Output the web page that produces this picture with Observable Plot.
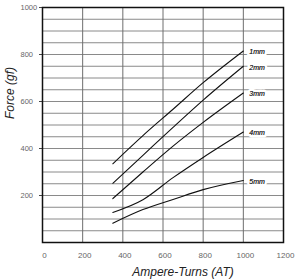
<!DOCTYPE html>
<html>
<head>
<meta charset="utf-8">
<script src="https://cdn.jsdelivr.net/npm/d3@7"></script>
<script src="https://cdn.jsdelivr.net/npm/@observablehq/plot@0.6"></script>
<style>
  html, body { margin: 0; padding: 0; background: #fff; }
  #chart svg { display: block; }
</style>
</head>
<body>
<div id="chart"></div>
<script>
const ampereTurns = [350, 500, 650, 800, 1000];
const gap1mm = [335, 455, 567, 680, 815];
const gap2mm = [252, 371, 490, 606, 750];
const gap3mm = [187, 300, 410, 511, 636];
const gap4mm = [128, 182, 276, 362, 470];
const gap5mm = [82, 140, 183, 225, 264];
const seriesNames = ["1mm", "2mm", "3mm", "4mm", "5mm"];
const xTicks = [0, 200, 400, 600, 800, 1000, 1200];
const yTicks = [200, 400, 600, 800, 1000];
const xTitle = "Ampere-Turns (AT)";
const yTitle = "Force (gf)";

const allSeries = [gap1mm, gap2mm, gap3mm, gap4mm, gap5mm];
const rows = [];
allSeries.forEach((vals, i) => {
  vals.forEach((v, j) => rows.push({gap: seriesNames[i], at: ampereTurns[j], force: v}));
});
const ends = rows.filter(d => d.at === ampereTurns[ampereTurns.length - 1]);

const font = "Liberation Sans, Arial, sans-serif";

const chart = Plot.plot({
  width: 299,
  height: 280,
  marginLeft: 42,
  marginRight: 16,
  marginTop: 7,
  marginBottom: 38,
  style: {fontFamily: font, background: "#fff"},
  x: {domain: [0, 1200]},
  y: {domain: [0, 1000]},
  marks: [
    Plot.gridY({ticks: 20, stroke: "#8a8a8a", strokeOpacity: 1, strokeWidth: 1}),
    Plot.gridX({ticks: [200, 400, 600, 800, 1000], stroke: "#6e6e6e", strokeOpacity: 1, strokeWidth: 1}),
    Plot.axisY({ticks: yTicks, tickSize: 3, tickFormat: () => "", label: null, stroke: "#444"}),
    Plot.axisX({ticks: [], label: null}),
    Plot.line(rows, {x: "at", y: "force", z: "gap", stroke: "#111", strokeWidth: 1.1, curve: "monotone-x"}),
    Plot.text(ends, {x: "at", y: "force", text: "gap", dx: 6, dy: 1, textAnchor: "start",
      fontSize: 7, fontStyle: "italic", fill: "#333", stroke: "white", strokeWidth: 5}),
    Plot.text(ends, {x: "at", y: "force", text: "gap", dx: 6, dy: 1, textAnchor: "start",
      fontSize: 7, fontStyle: "italic", fill: "#333"}),
    Plot.frame({stroke: "#111", strokeWidth: 1.5}),
    Plot.text(yTicks, {y: d => d, text: d => String(d), frameAnchor: "left", dx: -22,
      textAnchor: "start", fontSize: 7.5, fill: "#666"}),
    Plot.text(xTicks, {x: d => d, text: d => String(d), frameAnchor: "bottom", dx: 2, dy: 12.5,
      lineAnchor: "middle", fontSize: 8, fill: "#666"}),
    Plot.text([xTitle], {text: d => d, frameAnchor: "bottom", dx: 20, dy: 29.5,
      lineAnchor: "middle", fontSize: 12, fontStyle: "italic", fill: "#222"}),
    Plot.text([yTitle], {text: d => d, frameAnchor: "left", dx: -32, dy: -6, rotate: -90,
      lineAnchor: "middle", fontSize: 12, fontStyle: "italic", fill: "#222"})
  ]
});
document.getElementById("chart").append(chart);
</script>
</body>
</html>
